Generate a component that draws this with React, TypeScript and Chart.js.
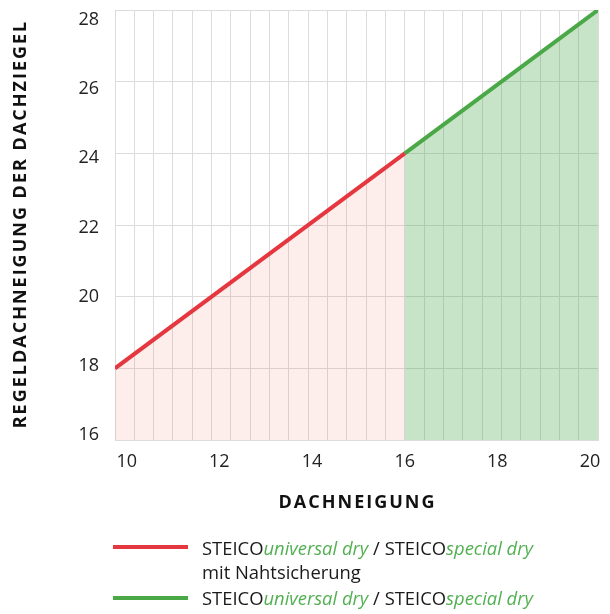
import React, { useEffect, useRef } from 'react';
import { Chart, registerables } from 'chart.js';

Chart.register(...registerables);

// ---- data ----
const redSeriesX = [10, 16];
const redSeriesY = [18, 24];
const greenSeriesX = [16, 20];
const greenSeriesY = [24, 28];
const xTickLabels = [10, 12, 14, 16, 18, 20];
const yTickLabels = [16, 18, 20, 22, 24, 26, 28];
const xTitle = 'DACHNEIGUNG';
const yTitle = 'REGELDACHNEIGUNG DER DACHZIEGEL';
const legendProduct = 'STEICO';
const legendItalicA = 'universal dry';
const legendItalicB = 'special dry';
const legendExtra = 'mit Nahtsicherung';

const FONT = '"Open Sans", "Noto Sans", sans-serif';
const GRID = '#dcdcdc';
const RED = '#e5373f';
const GREEN = '#4aa846';
const TEXT_GREEN = '#52b052';

const titlePlugin = {
  id: 'axisTitles',
  afterDraw(chart: any) {
    const ctx = chart.ctx as CanvasRenderingContext2D;
    const ca = chart.chartArea;
    ctx.save();
    ctx.font = `bold 18px ${FONT}`;
    (ctx as any).letterSpacing = '2px';
    ctx.fillStyle = '#111';
    ctx.textAlign = 'center';
    ctx.textBaseline = 'middle';
    ctx.fillText(xTitle, (ca.left + ca.right) / 2 + 1, ca.bottom + 63);
    ctx.translate(21, (ca.top + ca.bottom) / 2);
    ctx.rotate(-Math.PI / 2);
    ctx.fillText(yTitle, 1, 0);
    ctx.restore();
  },
};

export default function App() {
  const ref = useRef<HTMLCanvasElement | null>(null);

  useEffect(() => {
    if (!ref.current) return;
    const tickFont = { family: FONT, size: 18 };
    const chart = new Chart(ref.current, {
      type: 'line',
      data: {
        datasets: [
          {
            data: redSeriesX.map((x, i) => ({ x, y: redSeriesY[i] })),
            borderColor: RED,
            borderWidth: 4,
            pointRadius: 0,
            fill: 'start',
            backgroundColor: 'rgba(240,90,60,0.1)',
            xAxisID: 'x',
            yAxisID: 'y',
          },
          {
            data: greenSeriesX.map((x, i) => ({ x, y: greenSeriesY[i] })),
            borderColor: GREEN,
            borderWidth: 4,
            pointRadius: 0,
            fill: 'start',
            backgroundColor: 'rgba(72,165,72,0.3)',
            xAxisID: 'x',
            yAxisID: 'y',
          },
        ],
      },
      options: {
        animation: false,
        responsive: false,
        maintainAspectRatio: false,
        layout: { padding: { left: 40, right: 12, top: 10, bottom: 134 } },
        plugins: { legend: { display: false }, tooltip: { enabled: false } },
        scales: {
          x: {
            type: 'linear',
            position: 'bottom',
            weight: 0,
            min: 10,
            max: 20,
            ticks: { display: false, stepSize: 0.4 },
            grid: { color: GRID, drawTicks: false, lineWidth: 1 },
            border: { color: GRID },
            afterFit(s: any) {
              s.height = 0;
              s.paddingLeft = 0;
              s.paddingRight = 0;
            },
          },
          xl: {
            type: 'linear',
            position: 'bottom',
            weight: 1,
            min: 9.7475,
            max: 20.173,
            grid: { display: false, drawTicks: false },
            border: { display: false },
            ticks: { font: tickFont, color: '#222', padding: 11, maxRotation: 0, autoSkip: false },
            afterBuildTicks(s: any) {
              s.ticks = xTickLabels.map((v) => ({ value: v }));
            },
            afterFit(s: any) {
              s.height = 40;
              s.paddingLeft = 0;
              s.paddingRight = 0;
            },
          },
          y: {
            type: 'linear',
            position: 'left',
            weight: 0,
            min: 16,
            max: 28,
            ticks: { display: false, stepSize: 2 },
            grid: { color: GRID, drawTicks: false, lineWidth: 1 },
            border: { color: GRID },
            afterFit(s: any) {
              s.width = 0;
              s.paddingTop = 0;
              s.paddingBottom = 0;
            },
          },
          yl: {
            type: 'linear',
            position: 'left',
            weight: 1,
            min: 15.855,
            max: 28.289,
            grid: { display: false, drawTicks: false },
            border: { display: false },
            ticks: { font: tickFont, color: '#222', padding: 16, autoSkip: false },
            afterBuildTicks(s: any) {
              s.ticks = yTickLabels.map((v) => ({ value: v }));
            },
            afterFit(s: any) {
              s.width = 75;
              s.paddingTop = 0;
              s.paddingBottom = 0;
            },
          },
        },
      } as any,
      plugins: [titlePlugin],
    });
    return () => chart.destroy();
  }, []);

  const textStyle: React.CSSProperties = {
    position: 'absolute',
    left: 202,
    fontFamily: FONT,
    fontSize: 18.4,
    lineHeight: '24px',
    color: '#1a1a1a',
    whiteSpace: 'nowrap',
  };
  const it: React.CSSProperties = { fontStyle: 'italic', color: TEXT_GREEN };

  return (
    <div style={{ position: 'fixed', left: 0, top: 0, width: 610, height: 614, background: '#fff' }}>
      <canvas ref={ref} width={610} height={614} style={{ position: 'absolute', left: 0, top: 0 }} />
      <div style={{ position: 'absolute', left: 113, top: 545, width: 75, height: 4, background: RED }} />
      <div style={{ ...textStyle, top: 536 }}>
        {legendProduct}
        <span style={it}>{legendItalicA}</span> / {legendProduct}
        <span style={it}>{legendItalicB}</span>
        <br />
        {legendExtra}
      </div>
      <div style={{ position: 'absolute', left: 113, top: 596, width: 75, height: 4, background: GREEN }} />
      <div style={{ ...textStyle, top: 586 }}>
        {legendProduct}
        <span style={it}>{legendItalicA}</span> / {legendProduct}
        <span style={it}>{legendItalicB}</span>
      </div>
    </div>
  );
}
